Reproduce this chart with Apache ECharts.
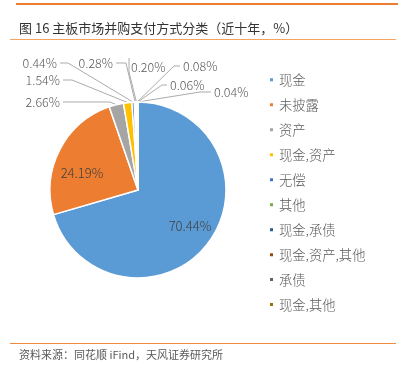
<!DOCTYPE html>
<html>
<head>
<meta charset="utf-8">
<script src="https://cdn.jsdelivr.net/npm/echarts@6/dist/echarts.min.js"></script>
<style>
html,body{margin:0;padding:0;background:#fff;}
#c{width:408px;height:372px;}
</style>
</head>
<body>
<div id="c"></div>
<script>
// ---- data ----
const categories = ['现金', '未披露', '资产', '现金,资产', '无偿', '其他', '现金,承债', '现金,资产,其他', '承债', '现金,其他'];
const values = [70.44, 24.19, 2.66, 1.54, 0.44, 0.28, 0.20, 0.08, 0.06, 0.04];
const titleText = '图 16 主板市场并购支付方式分类（近十年，%）';
const sourceText = '资料来源：同花顺 iFind，天风证券研究所';

// ---- styles / layout ----
const colors = ['#5B9BD5', '#ED7D31', '#A5A5A5', '#FFC000', '#4472C4', '#70AD47', '#255E91', '#9E480E', '#636363', '#997300'];
const CX = 138, CY = 190, R = 88;
const FONT = '"Noto Sans CJK SC", "Liberation Sans", sans-serif';
// inside label centres
const insideLabels = {0: [190, 226], 1: [82, 173]};
// outer label layout: [text x, text y, align, bend x, bend y, end x, end y]
const outerLabels = {
  2: [60, 102, 'right', 110, 102, 63, 102],
  3: [60, 80, 'right', 72, 80, 63, 80],
  4: [57, 63, 'right', 68, 63, 60, 63],
  5: [113, 63, 'right', 126, 63, 116, 63],
  6: [131, 67, 'left', 129, 72, 129, 58],
  7: [183, 66, 'left', 174, 66, 180, 66],
  8: [170, 85, 'left', 162, 85, 167, 85],
  9: [214, 92, 'left', 200, 92, 211, 92]
};

const chart = echarts.init(document.getElementById('c'), null, {renderer: 'canvas'});

const data = categories.map((name, i) => ({
  name: name,
  value: values[i],
  label: i < 2 ? {position: 'inside', color: '#404040', fontSize: 13} : undefined
}));

chart.setOption({
  animation: false,
  color: colors,
  title: {
    text: titleText,
    left: 14, top: 17,
    textStyle: {fontFamily: FONT, fontSize: 13, fontWeight: 'normal', color: '#333333'}
  },
  legend: {
    orient: 'vertical',
    left: 268, top: 73,
    padding: 0,
    itemWidth: 5, itemHeight: 5,
    itemGap: 11.7,
    icon: 'rect',
    textStyle: {fontFamily: FONT, fontSize: 13.3, fontWeight: 300, color: '#595959'},
    data: categories
  },
  graphic: [
    {type: 'rect', shape: {x: 16, y: 3, width: 382, height: 2}, style: {fill: '#ED7D31'}},
    {type: 'rect', shape: {x: 10, y: 39, width: 386, height: 1}, style: {fill: '#F4A460'}},
    {type: 'rect', shape: {x: 10, y: 343, width: 386, height: 1}, style: {fill: '#F08A3C'}},
    {type: 'text', left: 19, top: 349, style: {text: sourceText, font: '11px ' + FONT, fill: '#595959'}}
  ],
  series: [{
    type: 'pie',
    center: [CX, CY],
    radius: [0, R],
    startAngle: 90,
    clockwise: true,
    avoidLabelOverlap: false,
    itemStyle: {borderColor: '#fff', borderWidth: 1.5},
    label: {
      show: true,
      formatter: p => p.value.toFixed(2) + '%',
      fontFamily: FONT,
      fontSize: 12.5,
      fontWeight: 300,
      color: '#595959'
    },
    labelLine: {show: true, length: 10, length2: 10, lineStyle: {color: '#ABABAB', width: 1}},
    labelLayout: function (params) {
      const i = params.dataIndex;
      if (insideLabels[i]) {
        const p = insideLabels[i];
        return {x: p[0], y: p[1], align: 'center', verticalAlign: 'middle'};
      }
      const o = outerLabels[i];
      if (!o) return {};
      let start = params.labelLinePoints && params.labelLinePoints[0];
      if (!start) start = [CX, CY - R];
      return {
        x: o[0], y: o[1], align: o[2], verticalAlign: 'middle',
        labelLinePoints: [start, [o[3], o[4]], [o[5], o[6]]]
      };
    },
    data: data
  }]
});
</script>
</body>
</html>
